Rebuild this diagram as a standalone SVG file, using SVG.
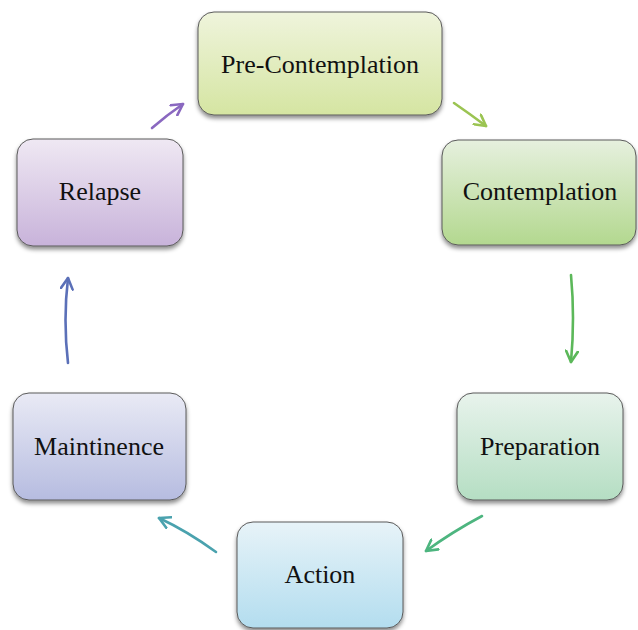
<svg xmlns="http://www.w3.org/2000/svg" width="638" height="630" viewBox="0 0 638 630">
<defs>
<linearGradient id="gPre" x1="0" y1="0" x2="0" y2="1"><stop offset="0" stop-color="#eff4dc"/><stop offset="1" stop-color="#d5e5a2"/></linearGradient>
<linearGradient id="gCon" x1="0" y1="0" x2="0" y2="1"><stop offset="0" stop-color="#e6f0de"/><stop offset="1" stop-color="#b3d88f"/></linearGradient>
<linearGradient id="gPrep" x1="0" y1="0" x2="0" y2="1"><stop offset="0" stop-color="#e8f3ec"/><stop offset="1" stop-color="#b5dec3"/></linearGradient>
<linearGradient id="gAct" x1="0" y1="0" x2="0" y2="1"><stop offset="0" stop-color="#e7f3f8"/><stop offset="1" stop-color="#b3ddef"/></linearGradient>
<linearGradient id="gMain" x1="0" y1="0" x2="0" y2="1"><stop offset="0" stop-color="#e9eaf5"/><stop offset="1" stop-color="#b6bce0"/></linearGradient>
<linearGradient id="gRel" x1="0" y1="0" x2="0" y2="1"><stop offset="0" stop-color="#efe8f3"/><stop offset="1" stop-color="#c8b3da"/></linearGradient>
<filter id="sh" x="-10%" y="-10%" width="120%" height="130%"><feDropShadow dx="0" dy="3" stdDeviation="2" flood-color="#000" flood-opacity="0.45"/></filter>
<marker id="a1" viewBox="0 0 14 14" refX="12" refY="7" markerWidth="14" markerHeight="14" markerUnits="userSpaceOnUse" orient="auto"><path d="M1,1 L12,7 L1,13" fill="none" stroke="#9bc452" stroke-width="2.6" stroke-linecap="round" stroke-linejoin="round"/></marker>
<marker id="a2" viewBox="0 0 14 14" refX="12" refY="7" markerWidth="14" markerHeight="14" markerUnits="userSpaceOnUse" orient="auto"><path d="M1,1 L12,7 L1,13" fill="none" stroke="#5cb85a" stroke-width="2.6" stroke-linecap="round" stroke-linejoin="round"/></marker>
<marker id="a3" viewBox="0 0 14 14" refX="12" refY="7" markerWidth="14" markerHeight="14" markerUnits="userSpaceOnUse" orient="auto"><path d="M1,1 L12,7 L1,13" fill="none" stroke="#4db57f" stroke-width="2.6" stroke-linecap="round" stroke-linejoin="round"/></marker>
<marker id="a4" viewBox="0 0 14 14" refX="12" refY="7" markerWidth="14" markerHeight="14" markerUnits="userSpaceOnUse" orient="auto"><path d="M1,1 L12,7 L1,13" fill="none" stroke="#4aa2ae" stroke-width="2.6" stroke-linecap="round" stroke-linejoin="round"/></marker>
<marker id="a5" viewBox="0 0 14 14" refX="12" refY="7" markerWidth="14" markerHeight="14" markerUnits="userSpaceOnUse" orient="auto"><path d="M1,1 L12,7 L1,13" fill="none" stroke="#5b70b8" stroke-width="2.6" stroke-linecap="round" stroke-linejoin="round"/></marker>
<marker id="a6" viewBox="0 0 14 14" refX="12" refY="7" markerWidth="14" markerHeight="14" markerUnits="userSpaceOnUse" orient="auto"><path d="M1,1 L12,7 L1,13" fill="none" stroke="#8a68c0" stroke-width="2.6" stroke-linecap="round" stroke-linejoin="round"/></marker>
</defs>
<style>
.box{stroke:#5a5a5a;stroke-width:1;filter:url(#sh)}
.lbl{font-family:"Liberation Serif","Times New Roman",serif;font-size:26px;fill:#111;text-anchor:middle}
.con{fill:none;stroke-width:2.6;stroke-linecap:round}
</style>
<rect width="638" height="630" fill="#ffffff"/>
<g id="connectors">
<path class="con" d="M454,103 Q470,114 486,126" stroke="#9bc452" marker-end="url(#a1)"/>
<path class="con" d="M571,275 Q575,318 571,362" stroke="#5cb85a" marker-end="url(#a2)"/>
<path class="con" d="M482,516 Q452,532 426,551" stroke="#4db57f" marker-end="url(#a3)"/>
<path class="con" d="M216,552 Q187,531 159,518" stroke="#4aa2ae" marker-end="url(#a4)"/>
<path class="con" d="M68,363 Q63,320 68,278" stroke="#5b70b8" marker-end="url(#a5)"/>
<path class="con" d="M152,128 Q167,115 183,104" stroke="#8a68c0" marker-end="url(#a6)"/>
</g>
<g id="pre-contemplation">
<rect class="box" x="198" y="12" width="244" height="103" rx="16" fill="url(#gPre)"/>
<text class="lbl" x="320" y="73">Pre-Contemplation</text>
</g>
<g id="contemplation">
<rect class="box" x="442" y="140" width="194" height="105" rx="16" fill="url(#gCon)"/>
<text class="lbl" x="540" y="200">Contemplation</text>
</g>
<g id="preparation">
<rect class="box" x="457" y="393" width="166" height="107" rx="16" fill="url(#gPrep)"/>
<text class="lbl" x="540" y="455">Preparation</text>
</g>
<g id="action">
<rect class="box" x="237" y="522" width="166" height="106" rx="16" fill="url(#gAct)"/>
<text class="lbl" x="320" y="583">Action</text>
</g>
<g id="maintinence">
<rect class="box" x="13" y="393" width="173" height="107" rx="16" fill="url(#gMain)"/>
<text class="lbl" x="99" y="455">Maintinence</text>
</g>
<g id="relapse">
<rect class="box" x="17" y="139" width="166" height="107" rx="16" fill="url(#gRel)"/>
<text class="lbl" x="100" y="200">Relapse</text>
</g>
</svg>
